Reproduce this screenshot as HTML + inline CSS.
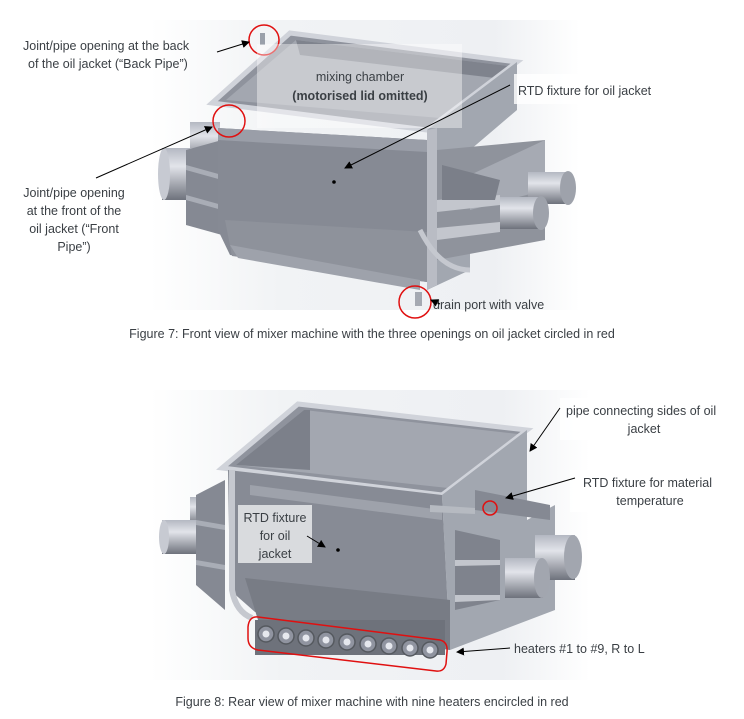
<!DOCTYPE html>
<html><head><meta charset="utf-8"><style>
html,body{margin:0;padding:0;background:#fff;}
body{width:744px;height:719px;overflow:hidden;position:relative;font-family:"Liberation Sans",sans-serif;}
svg{position:absolute;left:0;top:0;}
text{font-family:"Liberation Sans",sans-serif;fill:#3a3f44;font-size:12.5px;}
</style></head><body>
<svg width="744" height="719" viewBox="0 0 744 719">
<defs>
<marker id="ah" markerWidth="8" markerHeight="8" refX="7" refY="4" orient="auto" markerUnits="userSpaceOnUse"><path d="M0,0 L8,4 L0,8 z" fill="#000"/></marker>
<linearGradient id="bg" x1="0" y1="0" x2="1" y2="0"><stop offset="0" stop-color="#fff"/><stop offset="0.3" stop-color="#f1f3f5"/><stop offset="0.8" stop-color="#eef0f3"/><stop offset="1" stop-color="#fff"/></linearGradient>
<linearGradient id="cyl" x1="0" y1="0" x2="0" y2="1"><stop offset="0" stop-color="#b4b8c2"/><stop offset="0.35" stop-color="#e2e4ea"/><stop offset="1" stop-color="#6e727c"/></linearGradient>
</defs>
<rect x="150" y="20" width="430" height="290" fill="url(#bg)"/>
<rect x="150" y="390" width="440" height="290" fill="url(#bg)"/>

<!-- ========== FIGURE 7 ========== -->
<rect x="190" y="122" width="30" height="40" fill="url(#cyl)"/>
<rect x="162" y="148" width="40" height="52" fill="url(#cyl)"/>
<ellipse cx="164" cy="174" rx="6" ry="26" fill="#c7cad2"/>
<polygon points="186,150 222,140 222,235 186,225" fill="#858993"/>
<polygon points="186,165 222,175 222,180 186,170" fill="#a9adb6"/>
<polygon points="186,195 222,205 222,210 186,200" fill="#a9adb6"/>
<polygon points="290,33 517,62 427,130 212,103" fill="#8f939d"/>
<polygon points="296,40 508,66 440,118 226,100" fill="#a3a7b0"/>
<polygon points="296,40 508,66 495,78 300,55" fill="#7f838d"/>
<polygon points="290,33 517,62 427,130 212,103" fill="none" stroke="#d0d3da" stroke-width="5"/>
<polygon points="427,130 517,62 517,110 470,150 470,270 427,290" fill="#a2a7b0"/>
<polygon points="427,130 437,128 437,285 427,290" fill="#b9bcc4"/>
<polygon points="437,150 545,140 545,240 437,260" fill="#8f939c"/>
<polygon points="470,175 545,140 545,190 470,210" fill="#a6aab3"/>
<polygon points="437,200 500,195 500,205 437,212" fill="#c3c6cd"/>
<polygon points="437,228 500,222 500,232 437,240" fill="#c3c6cd"/>
<polygon points="442,165 500,180 495,200 442,200" fill="#7b7f89"/>
<rect x="528" y="172" width="40" height="32" fill="url(#cyl)"/>
<ellipse cx="568" cy="188" rx="8" ry="17" fill="#9ea2ab"/>
<rect x="500" y="197" width="40" height="32" fill="url(#cyl)"/>
<ellipse cx="541" cy="213" rx="8" ry="17" fill="#9ea2ab"/>
<polygon points="218,128 427,140 427,282 230,255 218,230" fill="#868a94"/>
<polygon points="218,128 427,140 427,152 218,140" fill="#9a9ea8"/>
<polygon points="225,220 427,232 427,282 232,256" fill="#8e929b"/>
<path d="M230,245 L420,280 L420,290 L238,258 Z" fill="#9ea2ab"/>
<path d="M420,230 Q440,270 470,270" stroke="#c5c8cf" stroke-width="5" fill="none"/>
<circle cx="334" cy="182" r="1.8" fill="#000"/>
<rect x="260" y="33" width="5" height="12" fill="#9aa0aa"/>
<rect x="415" y="292" width="7" height="14" fill="#a5a9b2"/>
<circle cx="264" cy="40" r="15" fill="none" stroke="#e01010" stroke-width="1.5"/>
<circle cx="229" cy="121" r="16" fill="none" stroke="#e01010" stroke-width="1.5"/>
<circle cx="415" cy="302" r="16" fill="none" stroke="#e01010" stroke-width="1.5"/>
<rect x="257" y="44" width="205" height="84" fill="#fff" fill-opacity="0.4"/>
<rect x="514" y="74" width="150" height="30" fill="#fff" fill-opacity="0.8"/>
<text x="360" y="81" text-anchor="middle">mixing chamber</text>
<text x="360" y="100" text-anchor="middle" font-weight="bold">(motorised lid omitted)</text>
<text x="518" y="95">RTD fixture for oil jacket</text>
<text x="23" y="50">Joint/pipe opening at the back</text>
<text x="28" y="68">of the oil jacket (“Back Pipe”)</text>
<text x="74" y="197" text-anchor="middle">Joint/pipe opening</text>
<text x="74" y="215" text-anchor="middle">at the front of the</text>
<text x="74" y="233" text-anchor="middle">oil jacket (“Front</text>
<text x="74" y="251" text-anchor="middle">Pipe”)</text>
<text x="433" y="309">drain port with valve</text>
<line x1="217" y1="52" x2="249" y2="42" stroke="#000" marker-end="url(#ah)"/>
<line x1="96" y1="178" x2="212" y2="127" stroke="#000" marker-end="url(#ah)"/>
<line x1="510" y1="85" x2="345" y2="168" stroke="#000" marker-end="url(#ah)"/>
<line x1="440" y1="304" x2="431" y2="300" stroke="#000" marker-end="url(#ah)"/>
<text x="372" y="338" text-anchor="middle" font-size="12">Figure 7: Front view of mixer machine with the three openings on oil jacket circled in red</text>

<!-- ========== FIGURE 8 ========== -->
<rect x="190" y="497" width="28" height="28" fill="url(#cyl)"/>
<rect x="162" y="520" width="40" height="34" fill="url(#cyl)"/>
<ellipse cx="164" cy="537" rx="5" ry="17" fill="#c7cad2"/>
<polygon points="196,495 225,480 225,610 196,585" fill="#858993"/>
<polygon points="196,520 225,525 225,530 196,525" fill="#a9adb6"/>
<polygon points="196,560 225,565 225,570 196,565" fill="#a9adb6"/>
<polygon points="298,404 527,430 442,495 222,468" fill="#8f939d"/>
<polygon points="304,410 518,434 448,488 236,465" fill="#a3a7b0"/>
<polygon points="304,410 310,410 310,470 236,465" fill="#7c808a"/>
<polygon points="298,404 527,430 442,495 222,468" fill="none" stroke="#d0d3da" stroke-width="5"/>
<polygon points="442,495 527,430 527,520 555,505 555,610 450,650" fill="#a2a7b0"/>
<polygon points="475,490 550,505 550,520 475,510" fill="#858993"/>
<polygon points="455,530 500,540 500,600 455,610" fill="#7f838d"/>
<polygon points="455,560 500,560 500,565 455,566" fill="#c3c6cd"/>
<polygon points="455,595 500,595 500,600 455,602" fill="#c3c6cd"/>
<rect x="535" y="535" width="40" height="45" fill="url(#cyl)"/>
<ellipse cx="573" cy="557" rx="9" ry="22" fill="#a2a6af"/>
<rect x="505" y="558" width="38" height="40" fill="url(#cyl)"/>
<ellipse cx="542" cy="578" rx="8" ry="20" fill="#a2a6af"/>
<polygon points="228,470 442,495 450,650 255,612 230,590" fill="#878b95"/>
<polygon points="250,485 442,510 442,520 250,495" fill="#9ea2ab"/>
<polygon points="245,578 450,600 450,650 258,620" fill="#787c85"/>
<path d="M232,470 L232,590 Q236,612 252,618" stroke="#c5c8cf" stroke-width="6" fill="none"/>
<polygon points="430,505 475,508 475,514 430,512" fill="#b6bac1"/>
<circle cx="338" cy="550" r="1.8" fill="#000"/>
<rect x="255" y="620" width="190" height="35" fill="#6e727b"/>
<g fill="#9094a0" stroke="#55595f" stroke-width="1.5">
<circle cx="266" cy="634" r="8"/><circle cx="286" cy="636" r="8"/><circle cx="306" cy="638" r="8"/>
<circle cx="326" cy="640" r="8"/><circle cx="347" cy="642" r="8"/><circle cx="368" cy="644" r="8"/>
<circle cx="389" cy="646" r="8"/><circle cx="410" cy="648" r="8"/><circle cx="430" cy="650" r="8"/>
</g>
<g fill="#e6e8ee"><circle cx="266" cy="634" r="3.5"/><circle cx="286" cy="636" r="3.5"/><circle cx="306" cy="638" r="3.5"/><circle cx="326" cy="640" r="3.5"/><circle cx="347" cy="642" r="3.5"/><circle cx="368" cy="644" r="3.5"/><circle cx="389" cy="646" r="3.5"/><circle cx="410" cy="648" r="3.5"/><circle cx="430" cy="650" r="3.5"/></g>
<path d="M258,617 L440,640 Q448,642 447,652 L446,664 Q444,672 436,671 L258,650 Q248,648 248,638 L248,627 Q249,616 258,617 Z" fill="none" stroke="#e01010" stroke-width="1.5"/>
<circle cx="490" cy="508" r="7" fill="none" stroke="#e01010" stroke-width="1.5"/>
<rect x="238" y="505" width="74" height="58" fill="#e8e9eb" fill-opacity="0.85"/>
<rect x="560" y="398" width="180" height="42" fill="#fff" fill-opacity="0.8"/>
<rect x="570" y="470" width="170" height="42" fill="#fff" fill-opacity="0.8"/>
<text x="275" y="522" text-anchor="middle">RTD fixture</text>
<text x="275" y="540" text-anchor="middle">for oil</text>
<text x="275" y="558" text-anchor="middle">jacket</text>
<text x="566" y="415">pipe connecting sides of oil</text>
<text x="644" y="433" text-anchor="middle">jacket</text>
<text x="583" y="487">RTD fixture for material</text>
<text x="650" y="505" text-anchor="middle">temperature</text>
<text x="514" y="653">heaters #1 to #9, R to L</text>
<line x1="560" y1="408" x2="530" y2="451" stroke="#000" marker-end="url(#ah)"/>
<line x1="575" y1="478" x2="506" y2="498" stroke="#000" marker-end="url(#ah)"/>
<line x1="307" y1="536" x2="325" y2="547" stroke="#000" marker-end="url(#ah)"/>
<line x1="510" y1="648" x2="457" y2="652" stroke="#000" marker-end="url(#ah)"/>
<text x="372" y="706" text-anchor="middle" font-size="12">Figure 8: Rear view of mixer machine with nine heaters encircled in red</text>
</svg>
</body></html>
